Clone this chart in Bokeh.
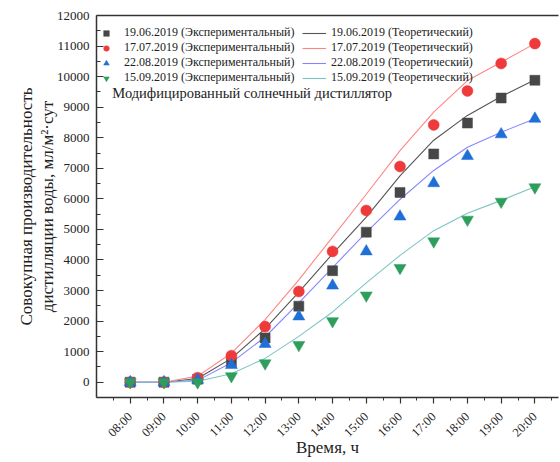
import math
from bokeh.plotting import figure
from bokeh.models import (FixedTicker, LinearAxis, Legend, LegendItem, Label)
from bokeh.embed import file_html
from bokeh.resources import INLINE

hours = [8, 9, 10, 11, 12, 13, 14, 15, 16, 17, 18, 19, 20]
hour_labels = ["08:00", "09:00", "10:00", "11:00", "12:00", "13:00", "14:00",
               "15:00", "16:00", "17:00", "18:00", "19:00", "20:00"]

# experimental
exp_0619 = [0, 0, 100, 650, 1450, 2490, 3650, 4910, 6210, 7470, 8480, 9300, 9880]
exp_0717 = [0, 0, 150, 870, 1820, 2970, 4280, 5620, 7060, 8420, 9530, 10430, 11080]
exp_0822 = [0, 0, 80, 560, 1250, 2150, 3160, 4280, 5420, 6510, 7400, 8110, 8620]
exp_0915 = [0, 0, 0, 200, 620, 1220, 2000, 2840, 3740, 4610, 5320, 5910, 6380]

# theoretical
th_0619 = [0, 0, 120, 780, 1750, 2950, 4200, 5400, 6750, 7920, 8730, 9350, 9900]
th_0717 = [0, 0, 200, 950, 2050, 3350, 4750, 6150, 7580, 8840, 9870, 10470, 11080]
th_0822 = [0, 0, 60, 640, 1480, 2600, 3750, 4900, 5980, 6930, 7690, 8180, 8620]
th_0915 = [0, 0, 30, 280, 780, 1500, 2300, 3250, 4150, 4960, 5530, 5950, 6400]

exp_names = ["19.06.2019 (Экспериментальный)", "17.07.2019 (Экспериментальный)",
             "22.08.2019 (Экспериментальный)", "15.09.2019 (Экспериментальный)"]
th_names = ["19.06.2019 (Теоретический)", "17.07.2019 (Теоретический)",
            "22.08.2019 (Теоретический)", "15.09.2019 (Теоретический)"]

y_ticks = list(range(0, 12001, 1000))
annotation_text = "Модифицированный солнечный дистиллятор"

FONT = "Liberation Serif"

p = figure(width=560, height=462, x_range=(7, 20.7), y_range=(-500, 12000),
           output_backend="svg", toolbar_location=None,
           min_border_left=96, min_border_right=2, min_border_top=15,
           min_border_bottom=65)
p.outline_line_color = None
p.xgrid.visible = False
p.ygrid.visible = False
p.background_fill_color = "white"

line_colors = ["#555555", "#ff8585", "#8585ff", "#7cc4c4"]
th_series = [th_0619, th_0717, th_0822, th_0915]
line_renderers = []
for ys, c in zip(th_series, line_colors):
    r = p.line(hours, ys, line_color=c, line_width=1.1)
    line_renderers.append(r)

markers = ["square", "circle", "triangle", "inverted_triangle"]
mcolors = ["#474747", "#ee3a3a", "#1f6fd8", "#2e9e5c"]
msizes = [10, 11, 12, 12]
exp_series = [exp_0619, exp_0717, exp_0822, exp_0915]
marker_renderers = []
for ys, m, c, s in zip(exp_series, markers, mcolors, msizes):
    r = p.scatter(hours, ys, marker=m, size=s, fill_color=c, line_color=c, line_width=0.5)
    marker_renderers.append(r)

# axes
ax = p.xaxis[0]
ax.ticker = FixedTicker(ticks=hours, minor_ticks=[h + 0.5 for h in range(7, 21)])
ax.major_label_overrides = {h: l for h, l in zip(hours, hour_labels)}
ax.major_label_orientation = math.pi / 4
ax.major_tick_in = 0
ax.major_tick_out = 6
ax.minor_tick_in = 0
ax.minor_tick_out = 3
ax.major_label_standoff = 11
ax.axis_label = "Время, ч"
ax.axis_label_standoff = -10

ay = p.yaxis[0]
ay.ticker = FixedTicker(ticks=y_ticks, minor_ticks=[v + 500 for v in range(-1000, 12000, 1000)])
ay.major_tick_in = 7
ay.major_tick_out = 0
ay.minor_tick_in = 4
ay.minor_tick_out = 0
ay.major_label_standoff = 7
ay.axis_label = "Совокупная производительность\nдистилляции воды, мл/м²·сут"
ay.axis_label_standoff = -3
ay.axis_label_text_line_height = 1.1

for a in (ax, ay):
    a.axis_line_color = "#333333"
    a.axis_line_width = 1.5
    a.major_tick_line_color = "#333333"
    a.minor_tick_line_color = "#333333"
    a.major_tick_line_width = 1.2
    a.minor_tick_line_width = 1.0
    a.major_label_text_font = FONT
    a.major_label_text_font_size = "13px"
    a.major_label_text_color = "#222222"
    a.axis_label_text_font = FONT
    a.axis_label_text_font_size = "17px"
    a.axis_label_text_font_style = "normal"
    a.axis_label_text_color = "#222222"
ax.major_label_text_font_size = "12.5px"

top = LinearAxis(ticker=FixedTicker(ticks=[]), major_tick_in=0, major_tick_out=0,
                 minor_tick_in=0, minor_tick_out=0, major_label_text_font_size="0px",
                 axis_line_color="#333333", axis_line_width=1.5)
p.add_layout(top, "above")

leg_kw = dict(background_fill_alpha=0, border_line_color=None, margin=0, padding=7,
              label_text_font=FONT, label_text_font_size="12px", label_text_color="#222222",
              label_height=14, glyph_height=14, spacing=0)

leg1 = Legend(items=[LegendItem(label=n, renderers=[r]) for n, r in zip(exp_names, marker_renderers)],
              location=(0, 312), glyph_width=20, label_standoff=8, **leg_kw)
leg2 = Legend(items=[LegendItem(label=n, renderers=[r]) for n, r in zip(th_names, line_renderers)],
              location=(206, 312), glyph_width=24, label_standoff=5, **leg_kw)
p.add_layout(leg1, "center")
p.add_layout(leg2, "center")

lab = Label(x=7.47, y=9480, text=annotation_text, text_font=FONT, text_font_size="14.5px",
            text_baseline="middle", text_color="#222222")
p.add_layout(lab)

open("out.html", "w").write(file_html(p, INLINE))
